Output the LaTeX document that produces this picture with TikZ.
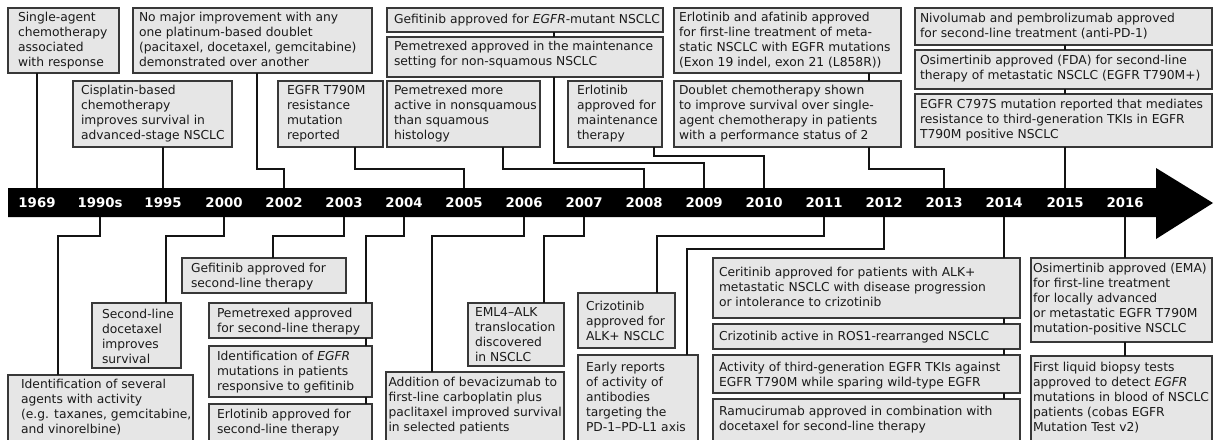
\documentclass[tikz,border=0pt]{standalone}
\usepackage{fontspec}
\setmainfont{DejaVu Sans}
\definecolor{boxfill}{HTML}{E6E6E6}
\definecolor{boxline}{HTML}{383838}
\definecolor{txt}{HTML}{1A1A1A}
\tikzset{
 evb/.style={draw=boxline, fill=boxfill, line width=1.2pt, inner sep=0pt, outer sep=0pt, rectangle},
 evt/.style={inner sep=0pt, outer sep=0pt, text=txt, font=\fontsize{12.3}{15}\selectfont},
 conn/.style={draw=black!92, line width=1.5pt},
 yrlab/.style={text=white, font=\fontsize{13.3}{15}\selectfont\bfseries, inner sep=0pt},
}
\newcommand\evbox[8]{%
 \node[evb, minimum width={#4pt-#2pt}, minimum height={#5pt-#3pt}, anchor=north west] (#1) at (#2,#3) {};
 \node[evt, anchor=base west] (#1t) at (#6,#7) {\begin{tabular}[t]{@{}l@{}}#8\end{tabular}};
}
\begin{document}
\begin{tikzpicture}[x=1pt,y=-1pt]
\useasboundingbox (0,0) rectangle (1214,439);
\clip (0,0) rectangle (1214,439);
% timeline arrow
\fill[black] (8,188) -- (1156,188) -- (1156,168) -- (1213,203) -- (1156,239) -- (1156,217) -- (8,217) -- cycle;
\coordinate (bartop) at (0,188);
\coordinate (barbot) at (0,217);
\foreach \yr/\xx in {1969/37, 1990s/100, 1995/163, 2000/224, 2002/284, 2003/344, 2004/404, 2005/464, 2006/524, 2007/584, 2008/644, 2009/704, 2010/764, 2011/824, 2012/884, 2013/944, 2014/1004, 2015/1065, 2016/1125}
  \node[yrlab] (y\yr) at (\xx,203) {\yr};

% top boxes
\evbox{b1}{8}{8}{119}{73}{18}{21}{Single-agent\\chemotherapy\\associated\\with response}
\evbox{b2}{73}{81}{232}{147}{81}{94}{Cisplatin-based\\chemotherapy\\improves survival in\\advanced-stage NSCLC}
\evbox{b3}{133}{8}{372}{73}{139}{21}{No major improvement with any\\one platinum-based doublet\\(pacitaxel, docetaxel, gemcitabine)\\demonstrated over another}
\evbox{b4}{278}{81}{383}{147}{287}{94}{EGFR T790M\\resistance\\mutation\\reported}
\evbox{b5}{387}{8}{663}{32}{394}{23}{Gefitinib approved for \emph{EGFR}-mutant NSCLC}
\evbox{b6}{387}{37}{663}{77}{394}{50}{Pemetrexed approved in the maintenance\\setting for non-squamous NSCLC}
\evbox{b7}{387}{81}{540}{147}{394}{94}{Pemetrexed more\\active in nonsquamous\\than squamous\\histology}
\evbox{b8}{568}{81}{662}{147}{577}{94}{Erlotinib\\approved for\\maintenance\\therapy}
\evbox{b9}{674}{8}{901}{73}{679}{21}{Erlotinib and afatinib approved\\for first-line treatment of meta-\\static NSCLC with EGFR mutations\\(Exon 19 indel, exon 21 (L858R))}
\evbox{b10}{674}{81}{901}{147}{679}{94}{Doublet chemotherapy shown\\to improve survival over single-\\agent chemotherapy in patients\\with a performance status of 2}
\evbox{b11}{915}{8}{1212}{45}{920}{22}{Nivolumab and pembrolizumab approved\\for second-line treatment (anti-PD-1)}
\evbox{b12}{915}{50}{1212}{89}{920}{64}{Osimertinib approved (FDA) for second-line\\therapy of metastatic NSCLC (EGFR T790M+)}
\evbox{b13}{915}{94}{1212}{147}{920}{108}{EGFR C797S mutation reported that mediates\\resistance to third-generation TKIs in EGFR\\T790M positive NSCLC}

% bottom boxes
\evbox{b14}{8}{375}{193}{445}{21}{388}{Identification of several\\agents with activity\\(e.g. taxanes, gemcitabine,\\and vinorelbine)}
\evbox{b15}{92}{303}{181}{368}{102}{318}{Second-line\\docetaxel\\improves\\survival}
\evbox{b16}{182}{258}{346}{293}{191}{272}{Gefitinib approved for\\second-line therapy}
\evbox{b17}{209}{303}{372}{338}{217}{317}{Pemetrexed approved\\for second-line therapy}
\evbox{b18}{209}{346}{372}{397}{217}{360}{Identification of \emph{EGFR}\\mutations in patients\\responsive to gefitinib}
\evbox{b19}{209}{404}{372}{445}{217}{418}{Erlotinib approved for\\second-line therapy}
\evbox{b20}{386}{372}{564}{445}{388.5}{386}{Addition of bevacizumab to\\first-line carboplatin plus\\paclitaxel improved survival\\in selected patients}
\evbox{b21}{468}{303}{564}{366}{475}{316}{EML4–ALK\\translocation\\discovered\\in NSCLC}
\evbox{b22}{578}{293}{675}{348}{586}{310}{Crizotinib\\approved for\\ALK+ NSCLC}
\evbox{b23}{578}{355}{698}{445}{586}{371}{Early reports\\of activity of\\antibodies\\targeting the\\PD-1–PD-L1 axis}
\evbox{b24}{713}{258}{1020}{318}{719}{276}{Ceritinib approved for patients with ALK+\\metastatic NSCLC with disease progression\\or intolerance to crizotinib}
\evbox{b25}{713}{324}{1020}{349}{719}{340}{Crizotinib active in ROS1-rearranged NSCLC}
\evbox{b26}{713}{355}{1020}{393}{719}{371}{Activity of third-generation EGFR TKIs against\\EGFR T790M while sparing wild-type EGFR}
\evbox{b27}{713}{399}{1020}{445}{719}{415}{Ramucirumab approved in combination with\\docetaxel for second-line therapy}
\evbox{b28}{1031}{258}{1212}{342}{1033}{272}{Osimertinib approved (EMA)\\for first-line treatment\\for locally advanced\\or metastatic EGFR T790M\\mutation-positive NSCLC}
\evbox{b29}{1031}{356}{1212}{445}{1033}{371}{First liquid biopsy tests\\approved to detect \emph{EGFR}\\mutations in blood of NSCLC\\patients (cobas EGFR\\Mutation Test v2)}

% top connectors
\draw[conn] (b1.south -| y1969) -- (y1969 |- bartop);
\draw[conn] (b2.south -| y1995) -- (y1995 |- bartop);
\draw[conn] ([xshift=124pt]b3.south west) |- (y2002 |- 0,169) -- (y2002 |- bartop);
\draw[conn] ([xshift=77pt]b4.south west) |- (y2005 |- 0,169) -- (y2005 |- bartop);
\draw[conn] ([xshift=167pt]b5.south west) -- ([xshift=167pt]b6.north west);
\draw[conn] ([xshift=167pt]b6.south west) |- (y2009 |- 0,163) -- (y2009 |- bartop);
\draw[conn] ([xshift=116pt]b7.south west) |- (y2008 |- 0,169) -- (y2008 |- bartop);
\draw[conn] ([xshift=86pt]b8.south west) |- (y2010 |- 0,156) -- (y2010 |- bartop);
\draw[conn] ([xshift=195pt]b9.south west) -- ([xshift=195pt]b10.north west);
\draw[conn] ([xshift=195pt]b10.south west) |- (y2013 |- 0,169) -- (y2013 |- bartop);
\draw[conn] (b11.south -| y2015) -- (b12.north -| y2015);
\draw[conn] (b12.south -| y2015) -- (b13.north -| y2015);
\draw[conn] (b13.south -| y2015) -- (y2015 |- bartop);

% bottom connectors
\draw[conn] (y1990s |- barbot) -- (y1990s |- 0,236) -| ([xshift=50pt]b14.north west);
\draw[conn] (y2000 |- barbot) -- (y2000 |- 0,236) -| ([xshift=74pt]b15.north west);
\draw[conn] (y2003 |- barbot) -- (y2003 |- 0,236) -| ([xshift=91pt]b16.north west);
\draw[conn] (y2004 |- barbot) -- (y2004 |- 0,236) -| ([xshift=157pt]b17.north west);
\draw[conn] ([xshift=157pt]b17.south west) -- ([xshift=157pt]b18.north west);
\draw[conn] ([xshift=157pt]b18.south west) -- ([xshift=157pt]b19.north west);
\draw[conn] (y2006 |- barbot) -- (y2006 |- 0,236) -| ([xshift=46pt]b20.north west);
\draw[conn] (y2007 |- barbot) -- (y2007 |- 0,236) -| ([xshift=76pt]b21.north west);
\draw[conn] (y2011 |- barbot) -- (y2011 |- 0,236) -| ([xshift=79pt]b22.north west);
\draw[conn] (y2012 |- barbot) -- (y2012 |- 0,249) -| ([xshift=109pt]b23.north west);
\draw[conn] (y2014 |- barbot) -- (b24.north -| y2014);
\draw[conn] (b24.south -| y2014) -- (b25.north -| y2014);
\draw[conn] (b25.south -| y2014) -- (b26.north -| y2014);
\draw[conn] (b26.south -| y2014) -- (b27.north -| y2014);
\draw[conn] (y2016 |- barbot) -- (b28.north -| y2016);
\draw[conn] (b28.south -| y2016) -- (b29.north -| y2016);
\end{tikzpicture}
\end{document}
